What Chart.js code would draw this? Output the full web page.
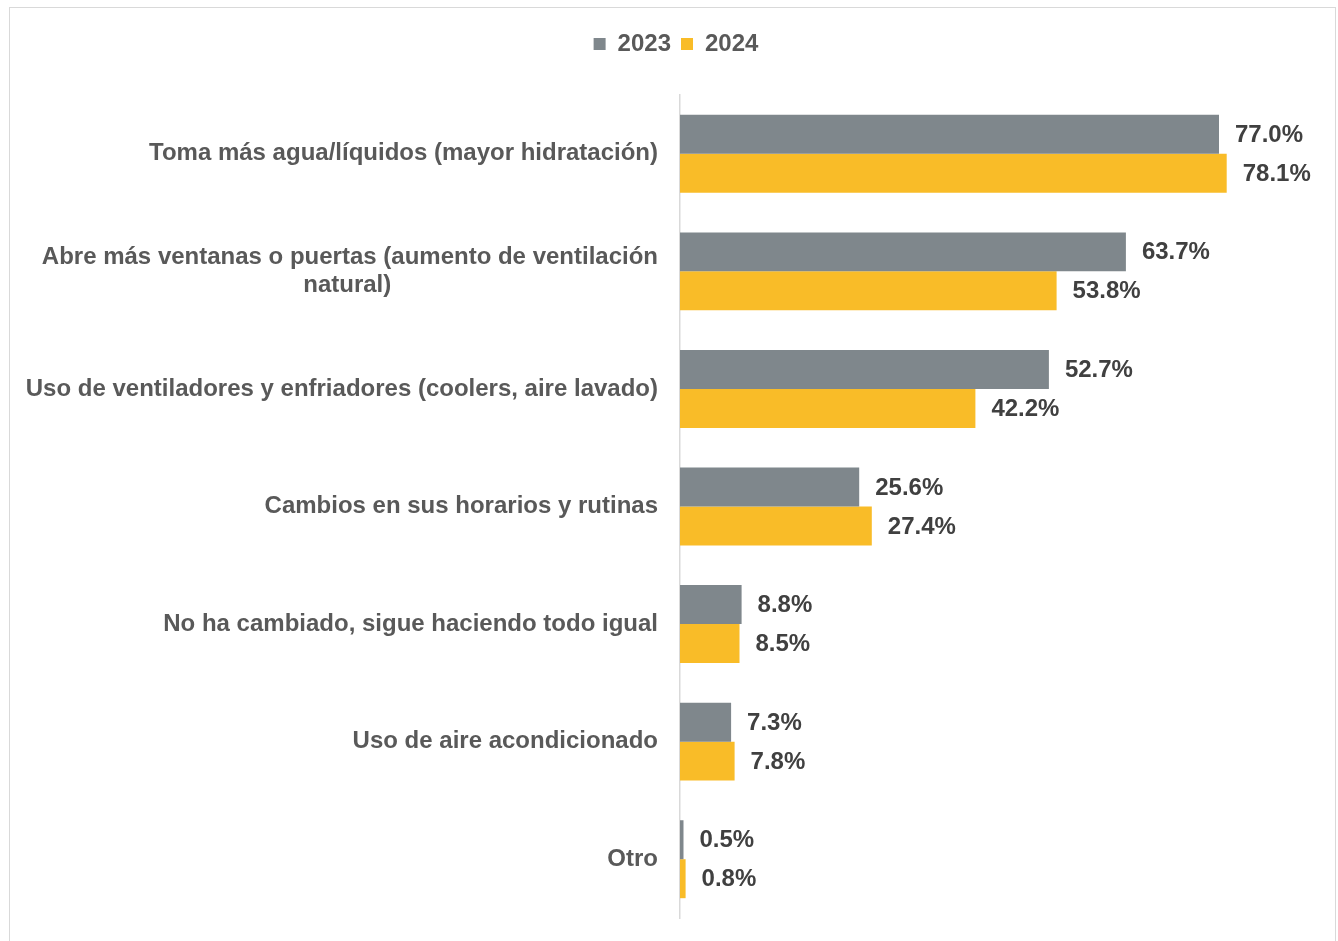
<!DOCTYPE html>
<html><head><meta charset="utf-8">
<script src="https://cdn.jsdelivr.net/npm/chart.js@4.4.0/dist/chart.umd.min.js"></script>
<style>
html,body{margin:0;padding:0;background:#fff;width:1338px;height:941px;overflow:hidden;}
#frame{position:absolute;left:9px;top:7px;width:1327px;height:980px;border:1.5px solid #d9d9d9;box-sizing:border-box;}
#wrap{position:absolute;left:0;top:0;width:1338px;height:941px;}
</style></head><body>
<div id="frame"></div>
<div id="wrap"><canvas id="c" width="1338" height="941"></canvas></div>
<script>
const categories = [
  ["Toma más agua/líquidos (mayor hidratación)"],
  ["Abre más ventanas o puertas (aumento de ventilación", "natural)"],
  ["Uso de ventiladores y enfriadores (coolers, aire lavado)"],
  ["Cambios en sus horarios y rutinas"],
  ["No ha cambiado, sigue haciendo todo igual"],
  ["Uso de aire acondicionado"],
  ["Otro"]
];
const seriesNames = ["2023", "2024"];
const values2023 = [77.0, 63.7, 52.7, 25.6, 8.8, 7.3, 0.5];
const values2024 = [78.1, 53.8, 42.2, 27.4, 8.5, 7.8, 0.8];

const FONT = "'Liberation Sans', Arial, sans-serif";
const LABEL_SIZE = 24;
const LEGEND_SHIFT = 21;

// centre shorter lines of a multi-line label under the longest line (right-aligned axis labels)
function centerLines(lines) {
  const ctx = document.createElement('canvas').getContext('2d');
  ctx.font = 'bold ' + LABEL_SIZE + 'px ' + FONT;
  const w = lines.map(l => ctx.measureText(l).width);
  const max = Math.max(...w);
  const sp = ctx.measureText(' ').width;
  return lines.map((l, i) => l + ' '.repeat(Math.round((max - w[i]) / 2 / sp)));
}
const axisLabels = categories.map(c => c.length > 1 ? centerLines(c) : c[0]);

const valueLabels = {
  id: 'valueLabels',
  afterDatasetsDraw(chart) {
    const ctx = chart.ctx;
    ctx.save();
    ctx.font = 'bold ' + LABEL_SIZE + 'px ' + FONT;
    ctx.fillStyle = '#404040';
    ctx.textAlign = 'left';
    ctx.textBaseline = 'middle';
    chart.data.datasets.forEach((ds, di) => {
      chart.getDatasetMeta(di).data.forEach((bar, i) => {
        ctx.fillText(ds.data[i].toFixed(1) + '%', bar.x + 16, bar.y + 1);
      });
    });
    ctx.restore();
  }
};

const legendTweak = {
  id: 'legendTweak',
  beforeInit(chart) {
    const lg = chart.legend;
    const origFit = lg.fit;
    lg.fit = function () { origFit.call(this); this.height += 29; };
    const origDraw = lg.draw;
    lg.draw = function () {
      this.ctx.save();
      this.ctx.translate(LEGEND_SHIFT, 0);
      origDraw.call(this);
      this.ctx.restore();
    };
  }
};

new Chart(document.getElementById('c'), {
  type: 'bar',
  data: {
    labels: axisLabels,
    datasets: [
      { label: seriesNames[0], data: values2023, backgroundColor: '#7F878C', borderWidth: 0 },
      { label: seriesNames[1], data: values2024, backgroundColor: '#F9BC28', borderWidth: 0 }
    ]
  },
  options: {
    indexAxis: 'y',
    responsive: false,
    animation: false,
    devicePixelRatio: 1,
    categoryPercentage: 0.663,
    barPercentage: 1,
    layout: { padding: { top: 22, right: 28, bottom: 23, left: 0 } },
    plugins: {
      legend: {
        position: 'top',
        align: 'center',
        labels: {
          boxWidth: 12, boxHeight: 12, padding: 10,
          color: '#595959',
          font: { family: FONT, size: LABEL_SIZE, weight: 'bold' }
        }
      },
      tooltip: { enabled: false }
    },
    scales: {
      x: { display: false, min: 0, max: 90 },
      y: {
        afterFit(scale) { scale.width = 680; scale.paddingTop = 0; scale.paddingBottom = 0; },
        grid: { display: false, drawTicks: false },
        border: { display: true, color: '#d9d9d9', width: 1.5 },
        ticks: {
          padding: 22,
          color: '#595959',
          font: { family: FONT, size: LABEL_SIZE, weight: 'bold', lineHeight: 1.15 }
        }
      }
    }
  },
  plugins: [valueLabels, legendTweak]
});
</script>
</body></html>
